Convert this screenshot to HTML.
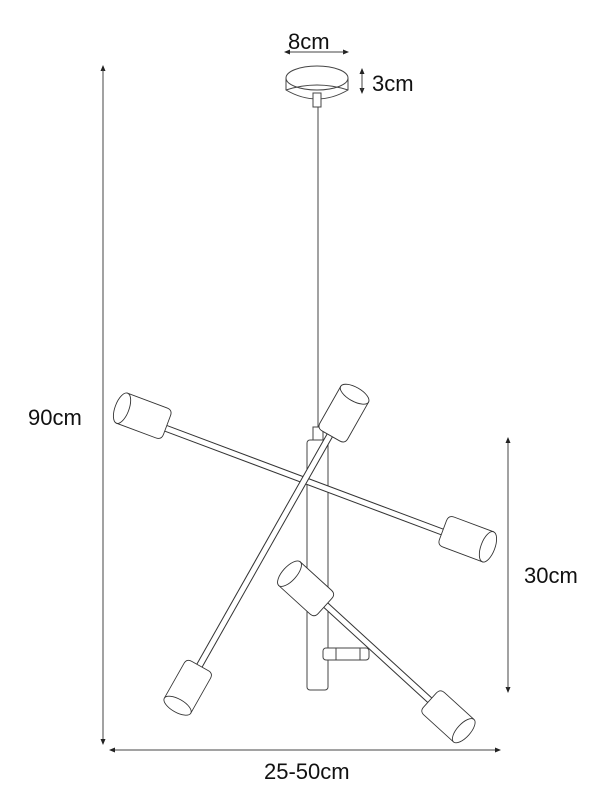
<!DOCTYPE html>
<html><head><style>html,body{margin:0;padding:0;background:#fff}svg{display:block}text{font-family:"Liberation Sans",sans-serif;fill:#111}</style></head>
<body>
<svg width="614" height="809" viewBox="0 0 614 809" xmlns="http://www.w3.org/2000/svg">
<defs>
<marker id="a" markerWidth="6" markerHeight="6" refX="5" refY="3" orient="auto"><path d="M0,0.5 L6,3 L0,5.5Z" fill="#222"/></marker>
<g id="sh">
<path d="M6,-16 L48,-16 L48,16 L6,16 Q0,16 0,10 L0,-10 Q0,-16 6,-16Z" fill="#fff" stroke="#333" stroke-width="0.9"/>
<ellipse cx="48" cy="0" rx="7" ry="16" fill="#fff" stroke="#333" stroke-width="0.9"/>
</g>
</defs>
<g stroke="#444" fill="none" stroke-width="1">
<line x1="103" y1="740" x2="103" y2="66" marker-end="url(#a)"/>
<line x1="103" y1="70" x2="103" y2="744" marker-end="url(#a)"/>
<line x1="115" y1="750" x2="500" y2="750" marker-end="url(#a)"/>
<line x1="495" y1="750" x2="110" y2="750" marker-end="url(#a)"/>
<line x1="508" y1="445" x2="508" y2="692" marker-end="url(#a)"/>
<line x1="508" y1="688" x2="508" y2="438" marker-end="url(#a)"/>
<line x1="290" y1="52" x2="348" y2="52" marker-end="url(#a)"/>
<line x1="344" y1="52" x2="285" y2="52" marker-end="url(#a)"/>
<line x1="362" y1="74" x2="362" y2="93" marker-end="url(#a)"/>
<line x1="362" y1="90" x2="362" y2="69" marker-end="url(#a)"/>
</g>
<g stroke="#444" stroke-width="1" fill="#fff">
<path d="M286,78 L286,90 Q317,108 348,90 L348,78"/>
<ellipse cx="317" cy="78" rx="31" ry="12"/>
<path d="M286,90 Q317,80 348,90" fill="none"/>
<rect x="313" y="93" width="8" height="14"/>
<line x1="318" y1="107" x2="318" y2="430"/>
<rect x="313" y="427" width="10" height="14"/>
<rect x="307" y="440" width="21" height="250" rx="3"/>
<rect x="323" y="648" width="46" height="12" rx="3"/>
<line x1="336" y1="648" x2="336" y2="660"/><line x1="360" y1="648" x2="360" y2="660"/>
</g>
<g stroke-linecap="butt">
<line x1="165" y1="428" x2="445" y2="533" stroke="#333" stroke-width="7"/>
<line x1="165" y1="428" x2="445" y2="533" stroke="#fff" stroke-width="5"/>
<line x1="330" y1="435" x2="197" y2="670" stroke="#333" stroke-width="7"/>
<line x1="330" y1="435" x2="197" y2="670" stroke="#fff" stroke-width="5"/>
<line x1="318" y1="598" x2="435" y2="705" stroke="#333" stroke-width="7"/>
<line x1="318" y1="598" x2="435" y2="705" stroke="#fff" stroke-width="5"/>
</g>
<use href="#sh" transform="translate(167,425) rotate(200.5)"/>
<use href="#sh" transform="translate(443,530) rotate(20.5)"/>
<use href="#sh" transform="translate(331,436) rotate(-60.5)"/>
<use href="#sh" transform="translate(200,666) rotate(119.5) scale(0.95)"/>
<use href="#sh" transform="translate(325,606) rotate(222.3)"/>
<use href="#sh" transform="translate(430,700) rotate(42.3) scale(0.95)"/>
<text x="288" y="49" font-size="22">8cm</text>
<text x="372" y="91" font-size="22">3cm</text>
<text x="28" y="425" font-size="22">90cm</text>
<text x="524" y="583" font-size="22">30cm</text>
<text x="264" y="779" font-size="22">25-50cm</text>
</svg>
</body></html>
